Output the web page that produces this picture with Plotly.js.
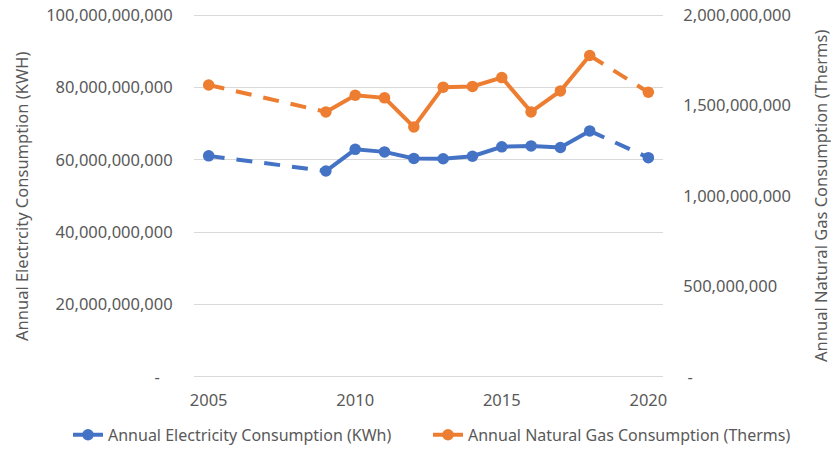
<!DOCTYPE html>
<html>
<head>
<meta charset="utf-8">
<script src="https://cdn.plot.ly/plotly-3.0.1.min.js"></script>
<style>html,body{margin:0;padding:0;background:#fff;}#chart{width:831px;height:452px;}</style>
</head>
<body>
<div id="chart"></div>
<script>
const years = [2005, 2009, 2010, 2011, 2012, 2013, 2014, 2015, 2016, 2017, 2018, 2020];
const electricity = [61.1e9, 56.9e9, 62.9e9, 62.2e9, 60.4e9, 60.3e9, 61.0e9, 63.6e9, 63.85e9, 63.4e9, 68.0e9, 60.6e9];
const gas = [1.614e9, 1.465e9, 1.557e9, 1.543e9, 1.382e9, 1.602e9, 1.606e9, 1.655e9, 1.465e9, 1.581e9, 1.777e9, 1.574e9];
const xTicks = [2005, 2010, 2015, 2020];
const leftTickVals = [0, 20e9, 40e9, 60e9, 80e9, 100e9];
const leftTickText = ['-\u00a0\u00a0\u00a0', '20,000,000,000', '40,000,000,000', '60,000,000,000', '80,000,000,000', '100,000,000,000'];
const rightTickVals = [0, 500e6, 1000e6, 1500e6, 2000e6];
const rightTickText = ['\u00a0-', '500,000,000', '1,000,000,000', '1,500,000,000', '2,000,000,000'];
const elecName = 'Annual Electricity Consumption (KWh)';
const gasName = 'Annual Natural Gas Consumption (Therms)';
const leftTitle = 'Annual Electrcity Consumption (KWH)';
const rightTitle = 'Annual Natural Gas Consumption (Therms)';

const BLUE = '#4472C4', ORANGE = '#ED7D31';
const FONT = 'Noto Sans, sans-serif';
const LW = 4, MS = 11.5, DASH = '16px,12px';

function seg(arr, a, b) { return arr.slice(a, b); }

function series(vals, color, name, yaxis, legend) {
  return [
    {x: seg(years,0,2), y: seg(vals,0,2), mode:'lines', yaxis:yaxis, line:{color:color,width:LW,dash:DASH}, showlegend:false},
    {x: seg(years,10,12), y: seg(vals,10,12), mode:'lines', yaxis:yaxis, line:{color:color,width:LW,dash:DASH}, showlegend:false},
    {x: seg(years,1,11), y: seg(vals,1,11), mode:'lines', yaxis:yaxis, line:{color:color,width:LW}, showlegend:false},
    {x: years, y: vals, mode:'markers', yaxis:yaxis, marker:{color:color,size:MS}, showlegend:false},
    {x: [null], y: [null], mode:'lines+markers', yaxis:yaxis, name: name, legend: legend, line:{color:color,width:LW}, marker:{color:color,size:MS}}
  ];
}

const traces = series(electricity, BLUE, elecName, 'y', 'legend').concat(series(gas, ORANGE, gasName, 'y2', 'legend2'));

const PL = 194, PW = 469, PB = 378.7, PH = 365.9;
const legendCommon = {orientation:'h', xanchor:'left', y:-(451.5-PB)/PH, yanchor:'bottom', font:{size:16, color:'#595959'}, itemwidth:30, bgcolor:'rgba(0,0,0,0)'};

const layout = {
  width: 831, height: 452,
  margin: {l:PL, r:831-PL-PW, t:PB-PH, b:452-PB, autoexpand:false},
  paper_bgcolor:'#fff', plot_bgcolor:'#fff',
  font: {family: FONT, color:'#595959', size:16.5},
  showlegend: true,
  legend: Object.assign({}, legendCommon, {x:(68-PL)/PW}),
  legend2: Object.assign({}, legendCommon, {x:(428-PL)/PW}),
  xaxis: {range:[2004.5, 2020.5], tickvals:xTicks, ticktext:xTicks.map(String), showgrid:false, zeroline:false, showline:false, ticks:'outside', ticklen:6, tickcolor:'rgba(0,0,0,0)', tickfont:{size:16.5, color:'#595959'}},
  yaxis: {range:[-0.6e9, 100.6e9], tickvals:leftTickVals, ticktext:leftTickText, showgrid:true, gridcolor:'#D9D9D9', gridwidth:1, zeroline:false, showline:false, ticks:'outside', ticklen:17, tickcolor:'rgba(0,0,0,0)', tickfont:{size:16.5, color:'#595959'}},
  yaxis2: {range:[-0.012e9, 2.012e9], overlaying:'y', side:'right', tickvals:rightTickVals, ticktext:rightTickText, showgrid:false, zeroline:false, showline:false, ticks:'outside', ticklen:16, tickcolor:'rgba(0,0,0,0)', tickfont:{size:16.5, color:'#595959'}},
  annotations: [
    {text:leftTitle, textangle:-90, xref:'paper', yref:'paper', x:(21-PL)/PW, y:0.5, xanchor:'center', yanchor:'middle', showarrow:false, font:{size:16.5, color:'#595959'}},
    {text:rightTitle, textangle:-90, xref:'paper', yref:'paper', x:(820-PL)/PW, y:0.5, xanchor:'center', yanchor:'middle', showarrow:false, font:{size:16.5, color:'#595959'}}
  ]
};

Plotly.newPlot('chart', traces, layout, {staticPlot:true, displayModeBar:false});
</script>
</body>
</html>
